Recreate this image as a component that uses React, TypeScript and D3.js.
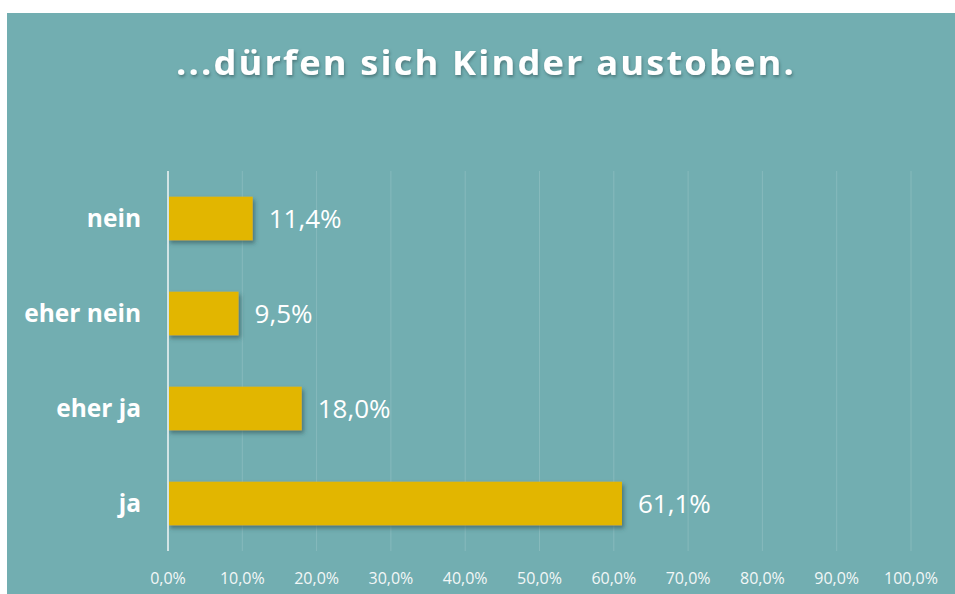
import React, { useRef, useEffect } from 'react'
import * as d3 from 'd3'

const categories = ['nein', 'eher nein', 'eher ja', 'ja']
const values = [11.4, 9.5, 18.0, 61.1]
const ticks = [0, 10, 20, 30, 40, 50, 60, 70, 80, 90, 100]

const fmt = (v: number) => v.toFixed(1).replace('.', ',') + '%'

const App: React.FC = () => {
  const svgRef = useRef<SVGSVGElement>(null)

  useEffect(() => {
    if (!svgRef.current) return
    const svg = d3.select(svgRef.current)
    svg.selectAll('*').remove()

    const width = 955
    const height = 594
    const margin = { top: 171, right: 44, bottom: 43, left: 168 }
    const font = '"Open Sans", Lato, sans-serif'

    svg.attr('width', width).attr('height', height)

    const defs = svg.append('defs')
    const shadow = defs.append('filter').attr('id', 'barShadow')
      .attr('x', '-10%').attr('y', '-20%').attr('width', '130%').attr('height', '160%')
    shadow.append('feDropShadow')
      .attr('dx', 2).attr('dy', 3).attr('stdDeviation', 2)
      .attr('flood-color', '#2d4f52').attr('flood-opacity', 0.6)
    const tShadow = defs.append('filter').attr('id', 'titleShadow')
      .attr('x', '-5%').attr('y', '-20%').attr('width', '110%').attr('height', '160%')
    tShadow.append('feDropShadow')
      .attr('dx', 1).attr('dy', 2).attr('stdDeviation', 1.5)
      .attr('flood-color', '#2d4f52').attr('flood-opacity', 0.55)

    svg.append('rect').attr('width', width).attr('height', height).attr('fill', '#fff')
    svg.append('rect')
      .attr('x', 7).attr('y', 13)
      .attr('width', width - 7).attr('height', height - 13)
      .attr('fill', '#72aeb1')

    // title
    svg.append('text')
      .attr('x', 486)
      .attr('y', 75)
      .attr('text-anchor', 'middle')
      .attr('fill', '#fff')
      .attr('filter', 'url(#titleShadow)')
      .attr('textLength', 620)
      .attr('lengthAdjust', 'spacingAndGlyphs')
      .style('font-family', font)
      .style('font-size', '34px')
      .style('font-weight', 'bold')
      .style('letter-spacing', '2px')
      .text('...dürfen sich Kinder austoben.')

    const innerW = width - margin.left - margin.right
    const innerH = height - margin.top - margin.bottom

    const g = svg.append('g')
      .attr('transform', `translate(${margin.left},${margin.top})`)

    const xScale = d3.scaleLinear().domain([0, 100]).range([0, innerW])
    const yScale = d3.scaleBand().domain(categories).range([0, innerH]).paddingInner(0.54).paddingOuter(0.27)

    // gridlines
    g.selectAll('.grid')
      .data(ticks.slice(1))
      .enter()
      .append('line')
      .attr('x1', d => xScale(d)).attr('x2', d => xScale(d))
      .attr('y1', 0).attr('y2', innerH)
      .attr('stroke', '#ffffff').attr('stroke-opacity', 0.15).attr('stroke-width', 1)

    // bars
    g.selectAll('.bar')
      .data(values)
      .enter()
      .append('rect')
      .attr('x', xScale(0))
      .attr('y', (d, i) => yScale(categories[i])!)
      .attr('width', d => xScale(d))
      .attr('height', yScale.bandwidth())
      .attr('fill', '#e2b600')
      .attr('filter', 'url(#barShadow)')

    // y axis line
    g.append('line')
      .attr('x1', 0).attr('x2', 0).attr('y1', 0).attr('y2', innerH)
      .attr('stroke', '#d2e4e5').attr('stroke-width', 2)

    // value labels
    g.selectAll('.val')
      .data(values)
      .enter()
      .append('text')
      .attr('x', d => xScale(d) + 16)
      .attr('y', (d, i) => yScale(categories[i])! + yScale.bandwidth() / 2)
      .attr('dy', '0.36em')
      .attr('fill', '#fff')
      .style('font-family', font)
      .style('font-size', '26px')
      .text(d => fmt(d))

    // category labels
    g.selectAll('.cat')
      .data(categories)
      .enter()
      .append('text')
      .attr('x', -27)
      .attr('y', d => yScale(d)! + yScale.bandwidth() / 2)
      .attr('dy', '0.36em')
      .attr('text-anchor', 'end')
      .attr('fill', '#fff')
      .style('font-family', font)
      .style('font-size', '24.5px')
      .style('font-weight', 'bold')
      .text(d => d)

    // x tick labels
    g.selectAll('.tick-label')
      .data(ticks)
      .enter()
      .append('text')
      .attr('x', d => xScale(d))
      .attr('y', innerH + 33)
      .attr('text-anchor', 'middle')
      .attr('fill', '#f2f7f7')
      .style('font-family', font)
      .style('font-size', '16px')
      .text(d => fmt(d))
  }, [])

  return (
    <div style={{ position: 'absolute', left: 0, top: 0 }}>
      <svg ref={svgRef}></svg>
    </div>
  )
}

export default App
